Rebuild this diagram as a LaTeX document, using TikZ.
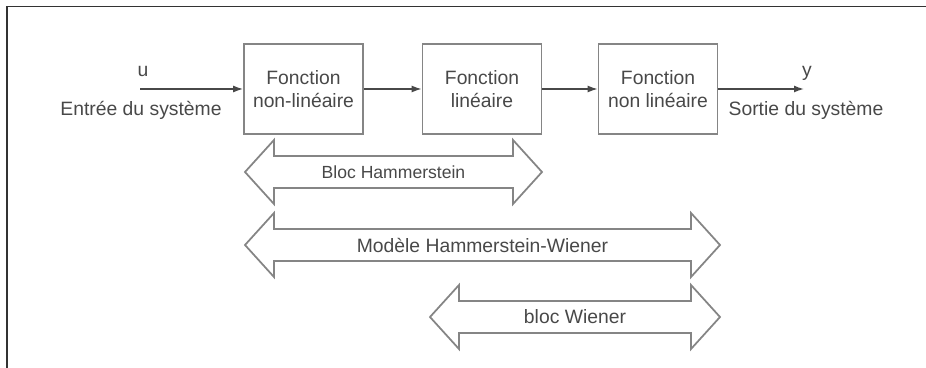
\documentclass[tikz,border=0pt]{standalone}
\usepackage{fontspec}
\setmainfont{Liberation Sans}
\usetikzlibrary{arrows.meta}

\definecolor{trait}{HTML}{858585}
\definecolor{texte}{HTML}{484848}

\tikzset{
  bloc/.style={draw=trait,line width=1pt,minimum width=2.38cm,minimum height=1.8cm,align=center,text=texte},
  lien/.style={draw=texte,line width=0.8pt,-{Latex[length=2mm,width=1.4mm]}},
  etiquette/.style={text=texte}
}

% double fleche : x gauche, x droite, y centre, nom, texte
\newcommand{\fleche}[5]{%
\draw[trait,line width=1pt] (#1,#3) -- ({#1+29},{#3-32}) -- ({#1+29},{#3-16}) -- ({#2-29},{#3-16})
  -- ({#2-29},{#3-32}) -- (#2,#3) -- ({#2-29},{#3+32}) -- ({#2-29},{#3+16})
  -- ({#1+29},{#3+16}) -- ({#1+29},{#3+32}) -- cycle;
\node[etiquette] (#4) at ({(#1+#2)/2},#3) {#5};
}

\begin{document}
\begin{tikzpicture}[x=0.02cm,y=-0.02cm,font=\fontsize{11}{13}\selectfont]
\useasboundingbox (0,0) rectangle (926,368);
% cadre
\draw[black!80,line width=1.1pt] (7,368) -- (7,6.5) -- (926,6.5);

% blocs
\node[bloc] (nl1) at (303.5,89) {Fonction\\non-linéaire};
\node[bloc] (lin) at (482,89) {Fonction\\linéaire};
\node[bloc] (nl2) at (658,89) {Fonction\\non linéaire};

\coordinate (entree) at (140,89);
\coordinate (sortie) at (804,89);
\draw[lien] (entree) -- (nl1);
\draw[lien] (nl1) -- (lin);
\draw[lien] (lin) -- (nl2);
\draw[lien] (nl2) -- (sortie);

\node[etiquette,anchor=base] (u) at (143,77) {u};
\node[etiquette,anchor=base] (es) at (141,115) {Entrée du système};
\node[etiquette,anchor=base] (y) at (807,77) {y};
\node[etiquette,anchor=base] (ss) at (806,115) {Sortie du système};

% blocs Hammerstein / Wiener
\fleche{245}{542}{172}{ham}{\fontsize{10}{12}\selectfont Bloc Hammerstein}
\fleche{245}{720}{245}{hw}{Modèle Hammerstein-Wiener}
\fleche{430}{720}{317}{wie}{bloc Wiener}
\end{tikzpicture}
\end{document}
